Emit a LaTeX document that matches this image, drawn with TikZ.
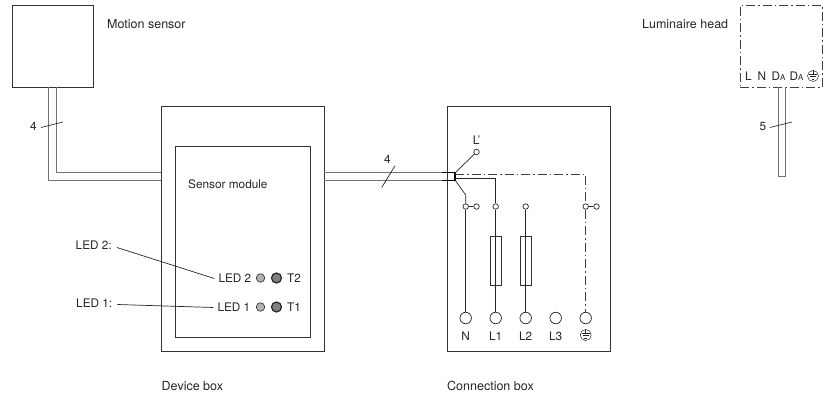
\documentclass[tikz,border=0pt]{standalone}
\usepackage{fontspec}
\setmainfont{TeX Gyre Heros}
\usepackage{tikz}

\tikzset{
  plainbox/.style={draw=black!80, line width=0.8pt, anchor=north west, inner sep=0pt},
  wire/.style={line width=0.7pt, black!85},
  cable/.style={line width=0.7pt, black!55},
  dashdot/.style={line width=0.9pt, black!75, dash pattern=on 9pt off 3pt on 1.5pt off 3pt},
  clamp/.style={circle, draw=black!85, line width=0.7pt, fill=white, minimum size=5.5pt, inner sep=0pt},
  terminal/.style={circle, draw=black!85, line width=0.7pt, fill=white, minimum size=11.5pt, inner sep=0pt},
  fuse/.style={draw=black!80, line width=0.7pt, fill=white, minimum width=11pt, minimum height=49pt, inner sep=0pt},
  led/.style={circle, draw=black!85, line width=0.6pt, fill=black!30, minimum size=8.5pt, inner sep=0pt},
  push/.style={circle, draw=black!85, line width=1.2pt, fill=black!50, minimum size=10pt, inner sep=0pt},
  label/.style={font=\fontsize{11.8}{13}\selectfont, text=black!85, inner sep=0pt},
  outerlabel/.style={font=\fontsize{12.5}{14}\selectfont, text=black!85, inner sep=0pt, anchor=west},
}

\newcommand{\earthsym}{%
  \tikz[baseline=-0.6ex, x=1pt, y=1pt, line width=0.5pt]{
    \draw (0,0) circle (5.5pt);
    \draw (0,5.5) -- (0,1.8);
    \draw (-4,1.8) -- (4,1.8);
    \draw (-2.8,-0.5) -- (2.8,-0.5);
    \draw (-1.4,-2.8) -- (1.4,-2.8);
  }}

\begin{document}
\begin{tikzpicture}[x=1pt, y=-1pt]
\useasboundingbox (0,0) rectangle (828,393);

% Motion sensor
\node[plainbox, minimum width=81.5pt, minimum height=82pt] (sensor) at (11.5,5) {};
\node[outerlabel] (sensorlabel) at (107,24) {Motion sensor};

% Device box
\node[plainbox, minimum width=163pt, minimum height=245pt] (device) at (161,106) {};
\node[plainbox, minimum width=135pt, minimum height=191pt] (module) at (175,146) {};
\node[label, anchor=west] (modulelabel) at (188,184) {Sensor module};
\node[outerlabel] (devicelabel) at (161.5,386) {Device box};

% Cable from the sensor to the device box
\coordinate (S1) at (48.5,87);
\coordinate (S2) at (56.5,87);
\coordinate (S3) at (48.5,180.5);
\coordinate (S4) at (56.5,172.5);
\coordinate (S5) at (161,180.5);
\coordinate (S6) at (161,172.5);
\draw[cable] (S1) -- (S3) -- (S5);
\draw[cable] (S2) -- (S4) -- (S6);
\node[label] (sensorcount) at (33.5,126) {4};
\coordinate (T1) at (41,127.5);
\coordinate (T2) at (63,122);
\draw[wire] (T1) -- (T2);

% LEDs and buttons
\node[led] (led2) at (260.5,278) {};
\node[led] (led1) at (260.5,307) {};
\node[push] (btn2) at (276.5,278) {};
\node[push] (btn1) at (276.5,307) {};
\node[label, anchor=east] (ledtext2) at (251.5,278.5) {LED 2};
\node[label, anchor=east] (ledtext1) at (250.5,307.5) {LED 1};
\node[label, anchor=west] (btntext2) at (287,278.5) {T2};
\node[label, anchor=west] (btntext1) at (287,307.5) {T1};
\node[label, anchor=west] (ledcall2) at (75.5,245.5) {LED 2:};
\node[label, anchor=west] (ledcall1) at (76,303.5) {LED 1:};
\draw[wire] (ledcall2.east) ++(5,2) -- ([xshift=-4pt]ledtext2.west);
\draw[wire] (ledcall1.east) ++(5,1) -- ([xshift=-4pt]ledtext1.west);

% Connection box
\node[plainbox, minimum width=163.5pt, minimum height=245pt] (conn) at (446.5,106) {};
\node[outerlabel] (connlabel) at (447,386) {Connection box};

% Cable from the device box to the connection box
\coordinate (C1) at (324,172.5);
\coordinate (C2) at (324,180.5);
\coordinate (C3) at (441.7,172.5);
\coordinate (C4) at (441.7,180.5);
\coordinate (C5) at (455,172.5);
\coordinate (C6) at (455,180.5);
\draw[cable] (C1) -- (C3);
\draw[cable] (C2) -- (C4);
\draw[line width=1.1pt, black] (C3) -- (C5) -- (C6) -- (C4);
\node[label] (conncount) at (387.5,159) {4};
\coordinate (T3) at (381.7,187.5);
\coordinate (T4) at (395,165.7);
\draw[wire] (T3) -- (T4);

% Terminals
\node[terminal] (N) at (465.7,318) {};
\node[terminal] (L1) at (495.7,318) {};
\node[terminal] (L2) at (525.7,318) {};
\node[terminal] (L3) at (555.7,318) {};
\node[terminal] (PE) at (585.7,318) {};
\node[label] (Nlabel) at (465.7,336) {N};
\node[label] (L1label) at (495.7,336) {L1};
\node[label] (L2label) at (525.7,336) {L2};
\node[label] (L3label) at (555.7,336) {L3};
\node[label] (PElabel) at (585.7,335) {\earthsym};

% Clamps
\node[clamp] (Lp) at (476.5,152) {};
\node[label] (Lplabel) at (476.5,140) {L'};
\node[clamp] (kN) at (465.7,206.5) {};
\node[clamp] (kNb) at (476.5,206.5) {};
\node[clamp] (k1) at (495.7,206.5) {};
\node[clamp] (k2) at (525.7,206.5) {};
\node[clamp] (kE) at (585.7,206.5) {};
\node[clamp] (kEb) at (596.5,206.5) {};
\node[fuse] (F1) at (495.7,260.5) {};
\node[fuse] (F2) at (525.7,260.5) {};

% Wiring
\coordinate (W1) at (455,173);
\coordinate (W2) at (455,178);
\coordinate (W3) at (455,180);
\coordinate (W4) at (465.7,195);
\coordinate (W5) at (495.7,178);
\coordinate (W6) at (455,174.5);
\coordinate (W7) at (585.7,174.5);
\draw[wire] (W1) -- (Lp);
\draw[wire] (W3) -- (W4) -- (kN);
\draw[wire] (kN) -- (kNb);
\draw[wire] (kN) -- (N);
\draw[wire] (W2) -- (W5) -- (k1);
\draw[wire] (k1) -- (F1);
\draw[wire] (F1) -- (L1);
\draw[wire] (F1.north) -- (F1.south);
\draw[wire] (k2) -- (F2);
\draw[wire] (F2) -- (L2);
\draw[wire] (F2.north) -- (F2.south);
\draw[dashdot] (W6) -- (W7) -- (kE);
\draw[dashdot] (kE) -- (PE);
\draw[wire] (kE) -- (kEb);

% Luminaire head
\node[plainbox, dashdot, minimum width=82pt, minimum height=82pt] (head) at (740,5) {};
\node[outerlabel] (headlabel) at (642,24) {Luminaire head};
\node[label] (hL) at (748.5,76.5) {L};
\node[label] (hN) at (762,76.5) {N};
\node[label] (hD1) at (778.5,76.5) {D{\fontsize{8}{9}\selectfont A}};
\node[label] (hD2) at (796.5,76.5) {D{\fontsize{8}{9}\selectfont A}};
\node[label] (hE) at (813,76) {\earthsym};

% Cable of the luminaire head
\coordinate (H1) at (778,87);
\coordinate (H2) at (785.5,87);
\coordinate (H3) at (778,176);
\coordinate (H4) at (785.5,176);
\draw[cable] (H1) -- (H3) -- (H4) -- (H2);
\node[label] (headcount) at (763,126) {5};
\coordinate (T5) at (770,127.5);
\coordinate (T6) at (792,122);
\draw[wire] (T5) -- (T6);

\end{tikzpicture}
\end{document}
